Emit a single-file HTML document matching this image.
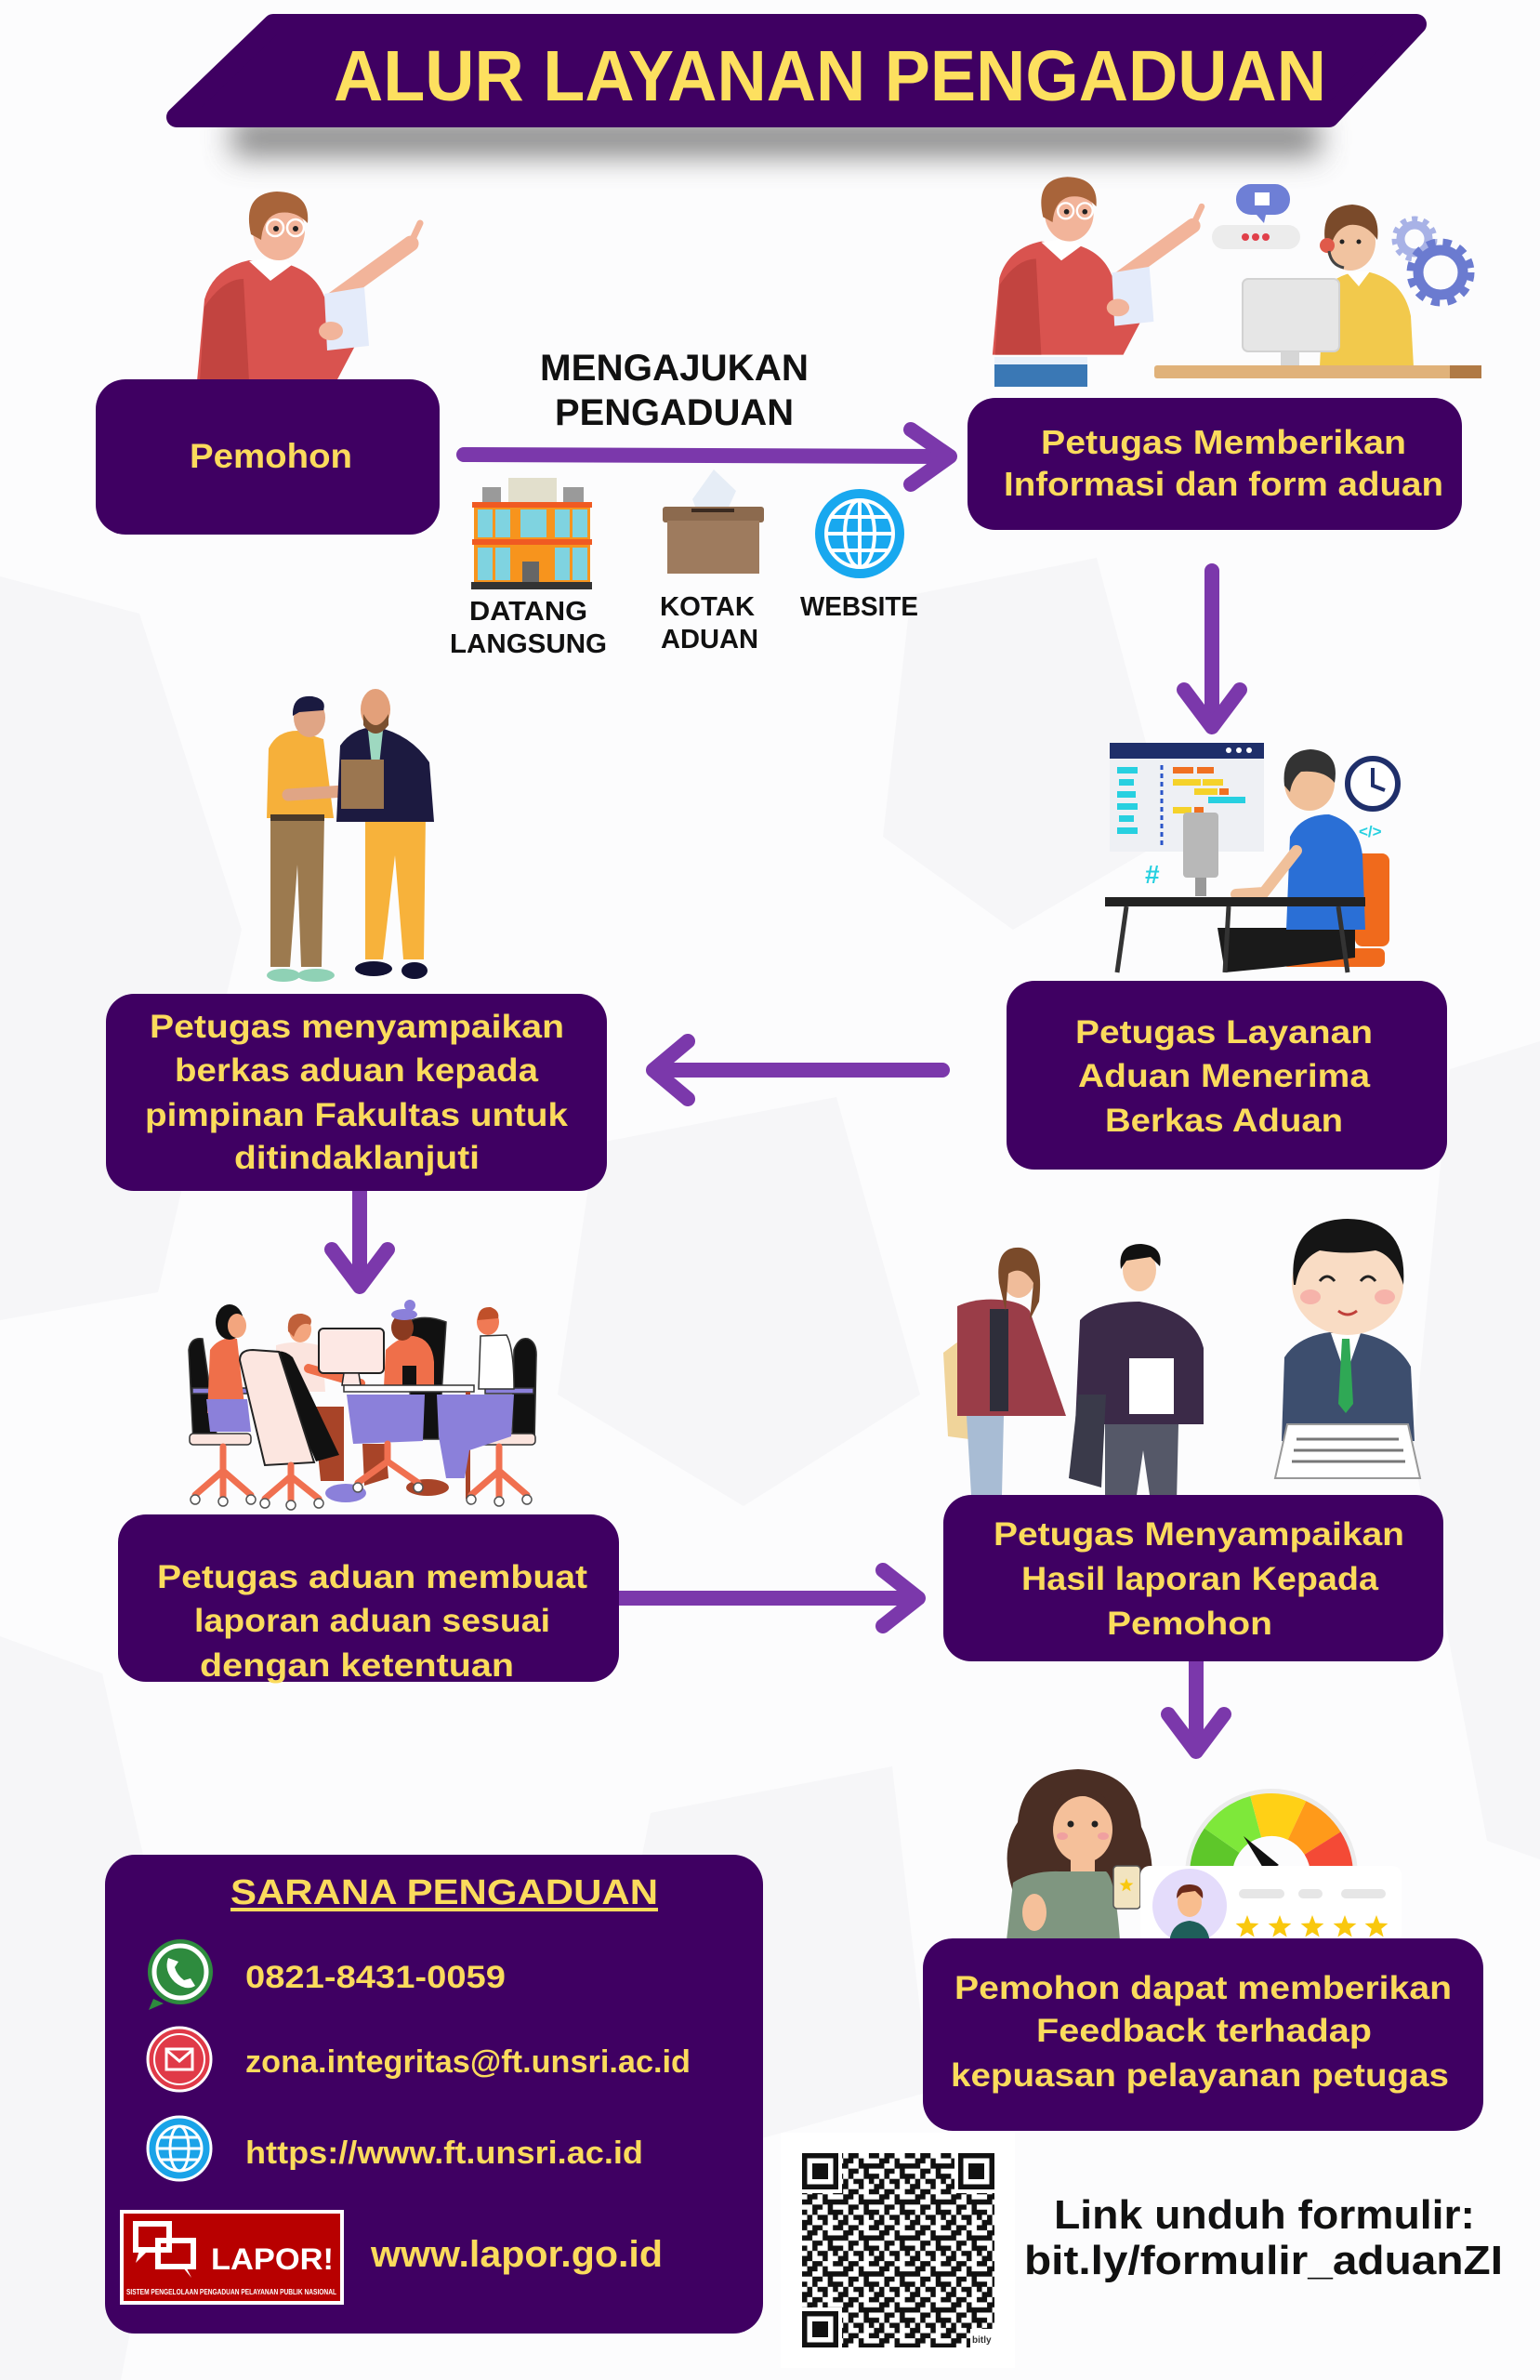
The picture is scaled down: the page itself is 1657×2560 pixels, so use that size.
<!DOCTYPE html>
<html><head><meta charset="utf-8">
<style>
html,body{margin:0;padding:0;background:#fcfcfd;}
svg{display:block;}
text{font-family:"Liberation Sans",Arial,sans-serif;font-weight:bold;}
</style></head><body>
<svg width="1657" height="2560" viewBox="0 0 1657 2560" xmlns="http://www.w3.org/2000/svg">
<defs>
<filter id="blur" x="-30%" y="-200%" width="160%" height="500%"><feGaussianBlur stdDeviation="16"/></filter>
<pattern id="qr" patternUnits="userSpaceOnUse" width="49" height="49" patternTransform="translate(863,2316) scale(0.79)">
<path fill="#111" d="M0 0h7v7h-7z M14 0h14v7h-14z M42 0h7v7h-7z M7 7h14v7h-14z M28 7h7v7h-7z M0 14h14v7h-14z M28 14h21v7h-21z M14 21h14v7h-14z M35 21h7v7h-7z M0 28h7v7h-7z M14 28h7v7h-7z M35 28h14v7h-14z M7 35h7v7h-7z M21 35h14v7h-14z M42 35h7v7h-7z M0 42h14v7h-14z M28 42h7v7h-7z"/>
</pattern>
<g id="finder"><rect x="-4" y="-4" width="47" height="47" fill="#fff"/><rect width="39" height="39" fill="#111"/><rect x="5.5" y="5.5" width="28" height="28" fill="#fff"/><rect x="11" y="11" width="17" height="17" fill="#111"/></g>
<polygon id="star" points="0,-13 3.23,-4.45 12.36,-4.02 5.23,1.7 7.64,10.52 0,5.5 -7.64,10.52 -5.23,1.7 -12.36,-4.02 -3.23,-4.45" fill="#f9c80e"/>
<g id="man">
<path d="M345,332 L442,262" stroke="#f2b49a" stroke-width="17" stroke-linecap="round"/>
<path d="M440,266 L452,240" stroke="#f2b49a" stroke-width="7" stroke-linecap="round"/>
<path d="M212,410 L220,322 Q230,288 268,280 L312,285 Q345,296 352,330 L382,372 L362,410 Z" fill="#d9534f"/>
<path d="M220,330 Q240,300 262,300 L268,410 L215,410Z" fill="#c24440"/>
<path d="M268,281 L291,302 L314,285 L300,276 Z" fill="#fff"/>
<ellipse cx="300" cy="248" rx="28" ry="32" fill="#f2b49a"/>
<path d="M270,252 Q260,208 298,206 Q334,207 331,240 Q318,226 300,229 Q283,233 281,258 Z" fill="#a8643a"/>
<circle cx="296" cy="245" r="9" fill="none" stroke="#fff" stroke-width="2.5"/>
<circle cx="318" cy="245" r="9" fill="none" stroke="#fff" stroke-width="2.5"/>
<circle cx="297" cy="246" r="3" fill="#222"/><circle cx="318" cy="246" r="3" fill="#222"/>
<path d="M349,316 L392,309 L397,372 L352,377 Z" fill="#e4ebfa"/>
<ellipse cx="356" cy="356" rx="13" ry="10" fill="#f2b49a"/>
</g>
</defs>

<rect width="1657" height="2560" fill="#fcfcfd"/>
<g fill="#f6f6f8">
<polygon points="0,620 150,660 260,1000 170,1390 0,1420"/>
<polygon points="0,1760 110,1800 200,2200 130,2560 0,2560"/>
<polygon points="1560,1150 1657,1120 1657,2000 1600,1980 1520,1560"/>
<polygon points="980,640 1180,600 1260,900 1090,1000 950,900"/>
<polygon points="640,1230 900,1180 990,1500 800,1620 600,1500"/>
<polygon points="700,1950 960,1900 1000,2250 820,2300 650,2200"/>
</g>

<!-- title -->
<rect x="250" y="128" width="1170" height="40" fill="#6a6a6a" filter="url(#blur)" opacity="0.8"/>
<polygon points="294,26 1524,26 1430,126 190,126" fill="#3f0062" stroke="#3f0062" stroke-width="22" stroke-linejoin="round"/>
<text x="359" y="108" font-size="77" fill="#fde05f" textLength="1068" lengthAdjust="spacingAndGlyphs">ALUR LAYANAN PENGADUAN</text>

<!-- ill1 pemohon -->
<use href="#man"/>

<!-- ill2 -->
<use href="#man" transform="translate(869,-3) scale(0.938)"/>
<rect x="1070" y="386" width="100" height="30" fill="#3a78b5"/>
<rect x="1070" y="384" width="100" height="8" fill="#e8f0fa"/>
<rect x="1330" y="198" width="58" height="33" rx="16" fill="#6e7fd6"/>
<path d="M1352,231 L1360,240 L1362,231Z" fill="#6e7fd6"/>
<rect x="1350" y="207" width="16" height="14" fill="#fff"/>
<rect x="1304" y="242" width="95" height="26" rx="13" fill="#ececec"/>
<circle cx="1340" cy="255" r="4" fill="#e0404a"/><circle cx="1351" cy="255" r="4" fill="#e0404a"/><circle cx="1362" cy="255" r="4" fill="#e0404a"/>
<path d="M1420,395 L1424,312 Q1440,292 1470,292 Q1510,300 1518,340 L1521,395 Z" fill="#f2c94c"/>
<path d="M1448,292 L1462,308 L1474,292Z" fill="#fff"/>
<ellipse cx="1453" cy="260" rx="27" ry="31" fill="#f1c3a0"/>
<path d="M1426,262 Q1420,222 1455,220 Q1486,222 1482,258 Q1470,240 1452,242 Q1436,246 1432,266Z" fill="#7a4a2a"/>
<circle cx="1428" cy="264" r="8" fill="#e05a4a"/>
<circle cx="1444" cy="260" r="2.5" fill="#222"/><circle cx="1462" cy="260" r="2.5" fill="#222"/>
<path d="M1430,270 Q1432,285 1446,288" stroke="#444" stroke-width="3" fill="none"/>
<rect x="1337" y="300" width="104" height="78" rx="6" fill="#e6e6e6" stroke="#d2d2d2" stroke-width="2"/>
<rect x="1378" y="378" width="20" height="16" fill="#d6d6d6"/>
<rect x="1242" y="393" width="352" height="14" rx="3" fill="#e0b27a"/>
<rect x="1560" y="393" width="34" height="14" fill="#b07a45"/>
<circle cx="1522" cy="257" r="15" fill="none" stroke="#a8b2e6" stroke-width="9"/>
<circle cx="1522" cy="257" r="21" fill="none" stroke="#a8b2e6" stroke-width="7" stroke-dasharray="6 6"/>
<circle cx="1550" cy="293" r="24" fill="none" stroke="#6b7bd0" stroke-width="11"/>
<circle cx="1550" cy="293" r="32" fill="none" stroke="#6b7bd0" stroke-width="9" stroke-dasharray="9 8"/>

<!-- boxes row 1 -->
<rect x="103" y="408" width="370" height="167" rx="32" fill="#3f0062"/>
<rect x="1041" y="428" width="532" height="142" rx="30" fill="#3f0062"/>

<!-- icons row -->
<rect x="519" y="524" width="20" height="20" fill="#9a9a9a"/>
<rect x="606" y="524" width="22" height="20" fill="#9a9a9a"/>
<rect x="547" y="514" width="52" height="28" fill="#e2dfcc"/>
<rect x="510" y="542" width="125" height="86" fill="#f7941d"/>
<rect x="508" y="540" width="129" height="6" fill="#f05a22"/>
<rect x="508" y="580" width="129" height="6" fill="#f05a22"/>
<g fill="#7fd3e0">
<rect x="514" y="548" width="16" height="30"/><rect x="533" y="548" width="16" height="30"/>
<rect x="597" y="548" width="16" height="30"/><rect x="616" y="548" width="16" height="30"/>
<rect x="514" y="589" width="16" height="35"/><rect x="533" y="589" width="16" height="35"/>
<rect x="597" y="589" width="16" height="35"/><rect x="616" y="589" width="16" height="35"/>
<rect x="560" y="548" width="28" height="30"/>
</g>
<rect x="562" y="604" width="18" height="22" fill="#666"/>
<rect x="507" y="626" width="130" height="8" fill="#333"/>
<path d="M745,537 L768,505 L792,528 L782,550 L750,550Z" fill="#e6edf6"/>
<rect x="713" y="545" width="109" height="17" rx="3" fill="#8c6a4e"/>
<rect x="718" y="560" width="99" height="57" fill="#9e7b5e"/>
<rect x="744" y="547" width="46" height="4" fill="#3a2a20"/>
<circle cx="925" cy="574" r="48" fill="#18a8ef"/>
<g fill="none" stroke="#fff" stroke-width="4">
<circle cx="925" cy="574" r="36"/>
<ellipse cx="925" cy="574" rx="16" ry="36"/>
<line x1="925" y1="538" x2="925" y2="610"/>
<line x1="889" y1="574" x2="961" y2="574"/>
<line x1="893" y1="556" x2="957" y2="556"/>
<line x1="893" y1="592" x2="957" y2="592"/>
</g>

<!-- ill3 two men -->
<path d="M291,878 L349,878 L346,1040 L324,1040 L320,930 L312,1040 L291,1040Z" fill="#9c7a4f"/>
<ellipse cx="305" cy="1049" rx="18" ry="7" fill="#8fd1b5"/><ellipse cx="340" cy="1049" rx="20" ry="7" fill="#8fd1b5"/>
<path d="M287,880 L289,805 Q298,786 320,786 L348,795 L359,880 Z" fill="#f6b03a"/>
<rect x="291" y="876" width="58" height="7" fill="#4a3a2a"/>
<path d="M310,855 L385,850" stroke="#e0a585" stroke-width="13" stroke-linecap="round"/>
<ellipse cx="333" cy="772" rx="17" ry="21" fill="#e0a585"/>
<path d="M315,770 Q314,747 336,749 Q352,752 348,764 L322,766Z" fill="#1a1a40"/>
<path d="M393,876 L458,876 L456,1032 L434,1032 L425,920 L412,1032 L393,1032Z" fill="#f7b23b"/>
<ellipse cx="402" cy="1042" rx="20" ry="8" fill="#111133"/><ellipse cx="446" cy="1044" rx="14" ry="9" fill="#111133"/>
<path d="M362,884 L366,802 Q380,782 405,782 Q442,790 462,820 L467,884 Z" fill="#1c1a40"/>
<path d="M396,786 L412,786 L404,860 Z" fill="#9ed8c0"/>
<ellipse cx="404" cy="763" rx="16" ry="22" fill="#e3a07a"/>
<path d="M391,768 Q404,792 418,768 L418,780 Q404,798 391,780Z" fill="#7a5030"/>
<rect x="367" y="817" width="46" height="53" fill="#9b7650"/>

<!-- arrows -->
<g stroke="#7b38ab" fill="none" stroke-width="16" stroke-linecap="round" stroke-linejoin="round">
<line x1="499" y1="489" x2="1014" y2="491"/>
<polyline points="980,462 1022,491 980,521"/>
<line x1="1304" y1="614" x2="1304" y2="780"/>
<polyline points="1274,742 1304,782 1334,742"/>
<line x1="1014" y1="1151" x2="708" y2="1151"/>
<polyline points="740,1120 703,1151 740,1182"/>
<line x1="387" y1="1281" x2="387" y2="1382"/>
<polyline points="357,1344 387,1384 417,1344"/>
<line x1="666" y1="1719" x2="982" y2="1719"/>
<polyline points="950,1689 988,1719 950,1749"/>
<line x1="1287" y1="1787" x2="1287" y2="1882"/>
<polyline points="1257,1844 1287,1884 1317,1844"/>
</g>

<!-- ill4 programmer -->
<rect x="1194" y="799" width="166" height="117" fill="#eef0f4"/>
<rect x="1194" y="799" width="166" height="17" fill="#1f2f6a"/>
<circle cx="1322" cy="807" r="3" fill="#fff"/><circle cx="1333" cy="807" r="3" fill="#fff"/><circle cx="1344" cy="807" r="3" fill="#fff"/>
<g fill="#27d0e0"><rect x="1202" y="825" width="22" height="7"/><rect x="1204" y="838" width="16" height="7"/><rect x="1202" y="851" width="20" height="7"/><rect x="1202" y="864" width="22" height="7"/><rect x="1204" y="877" width="16" height="7"/><rect x="1202" y="890" width="22" height="7"/><rect x="1300" y="857" width="40" height="7"/></g>
<line x1="1250" y1="823" x2="1250" y2="910" stroke="#2a55c8" stroke-width="3" stroke-dasharray="5 4"/>
<g fill="#f5d22a"><rect x="1262" y="838" width="30" height="7"/><rect x="1294" y="838" width="22" height="7"/><rect x="1285" y="848" width="25" height="7"/><rect x="1262" y="868" width="20" height="7"/></g>
<g fill="#f07021"><rect x="1262" y="825" width="22" height="7"/><rect x="1288" y="825" width="18" height="7"/><rect x="1312" y="848" width="10" height="7"/><rect x="1285" y="868" width="10" height="7"/></g>
<rect x="1273" y="874" width="38" height="70" rx="4" fill="#b8b8b8"/>
<rect x="1286" y="944" width="12" height="20" fill="#999"/>
<rect x="1458" y="918" width="37" height="100" rx="8" fill="#f06a1c"/>
<rect x="1380" y="1020" width="110" height="20" rx="6" fill="#f06a1c"/>
<path d="M1310,998 L1458,998 L1458,1030 L1380,1040 L1318,1046 Z" fill="#1a1a1a"/>
<path d="M1384,1000 L1388,900 Q1400,876 1430,876 Q1462,885 1466,920 L1469,1000 Z" fill="#2a6fd6"/>
<path d="M1395,915 L1360,960 L1330,962" stroke="#f0c09a" stroke-width="12" stroke-linecap="round" fill="none"/>
<ellipse cx="1409" cy="842" rx="27" ry="30" fill="#f0c09a"/>
<path d="M1382,845 Q1378,808 1410,806 Q1442,808 1436,842 Q1425,828 1400,830 Q1390,838 1388,852Z" fill="#333"/>
<rect x="1189" y="965" width="280" height="10" fill="#222"/>
<g stroke="#333" stroke-width="5"><line x1="1212" y1="975" x2="1202" y2="1046"/><line x1="1322" y1="975" x2="1318" y2="1046"/><line x1="1440" y1="975" x2="1450" y2="1046"/></g>
<circle cx="1477" cy="843" r="27" fill="#fff" stroke="#1f2f6a" stroke-width="6"/>
<path d="M1477,826 L1477,845 L1490,850" stroke="#1f2f6a" stroke-width="4" fill="none"/>
<text x="1232" y="950" font-size="28" fill="#27d0e0">#</text>
<text x="1462" y="900" font-size="17" fill="#27d0e0">&lt;/&gt;</text>

<!-- boxes row 2 -->
<rect x="114" y="1069" width="539" height="212" rx="30" fill="#3f0062"/>
<rect x="1083" y="1055" width="474" height="203" rx="30" fill="#3f0062"/>

<!-- ill5 meeting -->
<g stroke="#333" stroke-width="1.5">
<path d="M443,1420 Q458,1414 480,1422 L472,1548 L440,1548Z" fill="#111"/>
<path d="M203,1452 Q205,1438 218,1440 L234,1550 L208,1552Z" fill="#111"/>
<path d="M553,1452 Q558,1438 568,1440 Q578,1444 577,1460 L575,1552 L551,1552Z" fill="#111"/>
<rect x="204" y="1542" width="66" height="12" rx="4" fill="#fbe4de"/>
<rect x="500" y="1542" width="76" height="12" rx="4" fill="#fbe4de"/>
<rect x="207" y="1493" width="60" height="6" fill="#8b80da"/>
<rect x="522" y="1493" width="52" height="6" fill="#8b80da"/>
</g>
<path d="M223,1520 L226,1452 Q236,1437 255,1440 L264,1520Z" fill="#ef6f4a"/>
<path d="M222,1505 L266,1505 L270,1540 L226,1540Z" fill="#8b80da"/>
<ellipse cx="247" cy="1422" rx="15" ry="19" fill="#111"/>
<ellipse cx="255" cy="1426" rx="10" ry="13" fill="#f3a57e"/>
<path d="M297,1447 Q320,1440 347,1448 L350,1497 L297,1497Z" fill="#fbe4de"/>
<ellipse cx="323" cy="1430" rx="12" ry="14" fill="#f3a57e"/>
<path d="M310,1432 Q308,1412 325,1413 Q338,1416 334,1425 Q322,1420 316,1438Z" fill="#c0603a"/>
<path d="M332,1472 L388,1488" stroke="#ef6f4a" stroke-width="10" stroke-linecap="round"/>
<rect x="343" y="1429" width="70" height="48" rx="5" fill="#fde8e4" stroke="#222" stroke-width="2"/>
<path d="M370,1477 L386,1477 L388,1490 L368,1490Z" fill="#fde8e4" stroke="#222" stroke-width="1.5"/>
<path d="M413,1492 L415,1452 Q430,1437 445,1437 Q465,1440 467,1465 L467,1492Z" fill="#ef6f4a"/>
<ellipse cx="433" cy="1428" rx="12" ry="14" fill="#8a3a20"/>
<ellipse cx="435" cy="1414" rx="14" ry="6" fill="#8b80da"/>
<circle cx="441" cy="1404" r="6" fill="#8b80da"/>
<rect x="433" y="1469" width="15" height="22" fill="#111"/>
<ellipse cx="525" cy="1422" rx="12" ry="14" fill="#f07a55"/>
<path d="M514,1420 Q514,1405 528,1406 Q538,1410 536,1418Z" fill="#c0502a"/>
<path d="M517,1437 L545,1436 Q553,1450 553,1494 L515,1494Z" fill="#fff" stroke="#333" stroke-width="1.5"/>
<rect x="370" y="1490" width="140" height="7" fill="#fff" stroke="#333" stroke-width="1.5"/>
<rect x="501" y="1497" width="5" height="115" fill="#a84428"/>
<path d="M373,1500 L457,1500 L455,1550 L380,1553Z" fill="#8b80da"/>
<path d="M470,1500 L553,1500 L550,1545 L505,1560 L500,1590 L480,1590 L472,1545Z" fill="#8b80da"/>
<path d="M337,1513 L370,1513 L370,1593 L345,1593Z" fill="#a84428"/>
<path d="M390,1553 L415,1553 L418,1590 L392,1598Z" fill="#a84428"/>
<ellipse cx="460" cy="1600" rx="23" ry="9" fill="#a84428"/>
<ellipse cx="372" cy="1606" rx="22" ry="10" fill="#8b80da"/>
<path d="M290,1455 Q305,1450 315,1460 L365,1565 L340,1572Z" fill="#111"/>
<path d="M258,1463 Q258,1452 272,1452 L300,1454 L338,1573 L285,1576Z" fill="#fce6e0" stroke="#222" stroke-width="2"/>
<g stroke="#f07050" stroke-width="7" stroke-linecap="round" fill="none">
<path d="M240,1556 L240,1582 M210,1608 L240,1582 L270,1608 M240,1582 L240,1610"/>
<path d="M313,1576 L313,1588 M285,1612 L313,1588 L343,1612 M313,1588 L313,1614"/>
<path d="M417,1553 L417,1572 M385,1595 L417,1572 L450,1595"/>
<path d="M537,1556 L537,1582 M507,1608 L537,1582 L567,1608 M537,1582 L537,1610"/>
</g>
<g fill="#fff" stroke="#555" stroke-width="1.5">
<circle cx="210" cy="1613" r="5"/><circle cx="240" cy="1615" r="5"/><circle cx="270" cy="1613" r="5"/>
<circle cx="285" cy="1617" r="5"/><circle cx="313" cy="1619" r="5"/><circle cx="343" cy="1617" r="5"/>
<circle cx="385" cy="1600" r="5"/><circle cx="450" cy="1600" r="5"/>
<circle cx="507" cy="1613" r="5"/><circle cx="537" cy="1615" r="5"/><circle cx="567" cy="1613" r="5"/>
</g>

<!-- ill6 three people -->
<path d="M1015,1455 L1035,1440 L1062,1450 L1058,1550 L1020,1545Z" fill="#f0d49a"/>
<path d="M1040,1523 L1080,1523 L1078,1608 L1045,1608Z" fill="#a8bcd4"/>
<path d="M1030,1405 Q1050,1396 1075,1398 Q1100,1400 1108,1410 L1147,1523 L1030,1523Z" fill="#9a3d48"/>
<rect x="1065" y="1408" width="20" height="110" fill="#2e2e3a"/>
<ellipse cx="1096" cy="1372" rx="18" ry="24" fill="#f0bc9a"/>
<path d="M1075,1380 Q1070,1340 1098,1342 Q1124,1346 1118,1400 L1108,1420 L1112,1380 Q1100,1360 1085,1370 L1082,1410Z" fill="#7a4a2a"/>
<path d="M1189,1532 L1268,1532 L1266,1615 L1238,1615 L1230,1560 L1222,1615 L1189,1615Z" fill="#555868"/>
<path d="M1157,1532 L1162,1420 Q1180,1400 1226,1400 Q1285,1410 1295,1450 L1295,1532Z" fill="#3b2a48"/>
<path d="M1160,1500 L1190,1500 L1185,1600 L1150,1590Z" fill="#3a3a4a"/>
<rect x="1215" y="1461" width="48" height="60" fill="#fff"/>
<ellipse cx="1226" cy="1366" rx="18" ry="23" fill="#f5c8a5"/>
<path d="M1206,1365 Q1202,1338 1228,1338 Q1252,1340 1248,1362 L1238,1352 L1212,1356Z" fill="#111"/>
<path d="M1379,1550 L1382,1460 Q1400,1432 1448,1432 Q1500,1436 1518,1470 L1522,1550Z" fill="#3d4e6e"/>
<path d="M1432,1434 L1464,1434 L1448,1480Z" fill="#fff"/>
<path d="M1444,1440 L1452,1440 L1456,1510 L1448,1520 L1440,1510Z" fill="#2fa855"/>
<ellipse cx="1450" cy="1380" rx="60" ry="56" fill="#f9dcc4"/>
<path d="M1392,1382 Q1385,1312 1450,1311 Q1515,1312 1510,1382 Q1500,1350 1480,1345 Q1450,1350 1420,1345 Q1398,1355 1394,1382Z" fill="#151515"/>
<ellipse cx="1410" cy="1395" rx="11" ry="8" fill="#f6b3aa"/><ellipse cx="1490" cy="1395" rx="11" ry="8" fill="#f6b3aa"/>
<path d="M1420,1378 Q1428,1368 1436,1378 M1464,1378 Q1472,1368 1480,1378" stroke="#222" stroke-width="3" fill="none"/>
<path d="M1440,1410 Q1450,1418 1460,1410" stroke="#c0403a" stroke-width="3" fill="none"/>
<path d="M1385,1532 L1515,1532 L1528,1590 L1372,1590Z" fill="#fff" stroke="#999" stroke-width="2"/>
<g stroke="#777" stroke-width="3"><line x1="1395" y1="1548" x2="1505" y2="1548"/><line x1="1392" y1="1560" x2="1510" y2="1560"/><line x1="1390" y1="1572" x2="1512" y2="1572"/></g>

<!-- boxes row 3 -->
<rect x="127" y="1629" width="539" height="180" rx="30" fill="#3f0062"/>
<rect x="1015" y="1608" width="538" height="179" rx="30" fill="#3f0062"/>

<!-- ill7 feedback -->
<circle cx="1368" cy="2017" r="90" fill="none" stroke="#ececec" stroke-width="6"/>
<g fill="none" stroke-width="46">
<path d="M1303,2017 A65,65 0 0 1 1314.8,1979.7" stroke="#5ec72a"/>
<path d="M1314.8,1979.7 A65,65 0 0 1 1351.2,1954.2" stroke="#7ee83a"/>
<path d="M1351.2,1954.2 A65,65 0 0 1 1395.5,1958.1" stroke="#ffd016"/>
<path d="M1395.5,1958.1 A65,65 0 0 1 1423.1,1982.6" stroke="#ff9a1a"/>
<path d="M1423.1,1982.6 A65,65 0 0 1 1433,2017" stroke="#f44a36"/>
</g>
<polygon points="1338,1975 1362,2014 1376,2006" fill="#111"/>
<path d="M1090,2035 Q1075,1990 1095,1960 Q1100,1905 1160,1903 Q1222,1905 1228,1965 Q1245,2000 1237,2035Z" fill="#4a2e24"/>
<rect x="1152" y="1995" width="26" height="22" fill="#f5c09a"/>
<ellipse cx="1165" cy="1968" rx="32" ry="36" fill="#f5c09a"/>
<path d="M1133,1965 Q1135,1930 1168,1932 Q1190,1938 1198,1962 Q1195,1925 1165,1922 Q1130,1925 1133,1965Z" fill="#4a2e24"/>
<circle cx="1152" cy="1962" r="3.5" fill="#222"/><circle cx="1178" cy="1962" r="3.5" fill="#222"/>
<ellipse cx="1143" cy="1975" rx="6" ry="4" fill="#f0a0a0"/><ellipse cx="1187" cy="1975" rx="6" ry="4" fill="#f0a0a0"/>
<path d="M1083,2087 L1090,2025 Q1110,2012 1140,2013 L1190,2013 Q1200,2020 1205,2087Z" fill="#7f9680"/>
<ellipse cx="1113" cy="2057" rx="13" ry="20" fill="#f5c09a"/>
<rect x="1198" y="2007" width="29" height="46" rx="4" fill="#f2e4c0" stroke="#555" stroke-width="1.5"/>
<use href="#star" transform="translate(1212,2028) scale(0.6)"/>
<rect x="1227" y="2007" width="281" height="83" rx="10" fill="#fff"/>
<circle cx="1280" cy="2050" r="40" fill="#e4dcfb"/>
<ellipse cx="1280" cy="2046" rx="13" ry="16" fill="#f8bd8e"/>
<path d="M1266,2042 Q1266,2026 1281,2027 Q1296,2028 1294,2042 L1286,2034 L1272,2036Z" fill="#6b2a1a"/>
<path d="M1258,2090 Q1260,2068 1280,2066 Q1300,2068 1302,2090Z" fill="#1f5f5a"/>
<rect x="1333" y="2032" width="49" height="10" rx="5" fill="#e6e6e6"/>
<rect x="1397" y="2032" width="26" height="10" rx="5" fill="#e6e6e6"/>
<rect x="1443" y="2032" width="48" height="10" rx="5" fill="#e6e6e6"/>
<use href="#star" transform="translate(1342,2073)"/>
<use href="#star" transform="translate(1377,2073)"/>
<use href="#star" transform="translate(1412,2073)"/>
<use href="#star" transform="translate(1447,2073)"/>
<use href="#star" transform="translate(1481,2073)"/>

<rect x="993" y="2085" width="603" height="207" rx="32" fill="#3f0062"/>
<rect x="113" y="1995" width="708" height="515" rx="32" fill="#3f0062"/>

<!-- yellow texts -->
<g fill="#fbdb5c" font-size="35">
<text x="204" y="503" font-size="37" textLength="175" lengthAdjust="spacingAndGlyphs">Pemohon</text>
<text x="1120" y="488" font-size="36" textLength="393" lengthAdjust="spacingAndGlyphs">Petugas Memberikan</text>
<text x="1080" y="533" font-size="36" textLength="473" lengthAdjust="spacingAndGlyphs">Informasi dan form aduan</text>
<text x="161" y="1116" textLength="446" lengthAdjust="spacingAndGlyphs">Petugas menyampaikan</text>
<text x="188" y="1163" textLength="391" lengthAdjust="spacingAndGlyphs">berkas aduan kepada</text>
<text x="156" y="1211" textLength="455" lengthAdjust="spacingAndGlyphs">pimpinan Fakultas untuk</text>
<text x="252" y="1257" textLength="264" lengthAdjust="spacingAndGlyphs">ditindaklanjuti</text>
<text x="1157" y="1122" textLength="320" lengthAdjust="spacingAndGlyphs">Petugas Layanan</text>
<text x="1160" y="1169" textLength="314" lengthAdjust="spacingAndGlyphs">Aduan Menerima</text>
<text x="1189" y="1217" textLength="256" lengthAdjust="spacingAndGlyphs">Berkas Aduan</text>
<text x="169" y="1708" textLength="463" lengthAdjust="spacingAndGlyphs">Petugas aduan membuat</text>
<text x="209" y="1755" textLength="383" lengthAdjust="spacingAndGlyphs">laporan aduan sesuai</text>
<text x="215" y="1803" textLength="338" lengthAdjust="spacingAndGlyphs">dengan ketentuan</text>
<text x="1069" y="1662" textLength="442" lengthAdjust="spacingAndGlyphs">Petugas Menyampaikan</text>
<text x="1099" y="1710" textLength="384" lengthAdjust="spacingAndGlyphs">Hasil laporan Kepada</text>
<text x="1191" y="1758" textLength="178" lengthAdjust="spacingAndGlyphs">Pemohon</text>
<text x="1027" y="2150" textLength="535" lengthAdjust="spacingAndGlyphs">Pemohon dapat memberikan</text>
<text x="1115" y="2196" textLength="361" lengthAdjust="spacingAndGlyphs">Feedback terhadap</text>
<text x="1023" y="2244" textLength="536" lengthAdjust="spacingAndGlyphs">kepuasan pelayanan petugas</text>
<text x="248" y="2048" font-size="38" textLength="460" lengthAdjust="spacingAndGlyphs">SARANA PENGADUAN</text>
<text x="264" y="2138" font-size="34" textLength="280" lengthAdjust="spacingAndGlyphs">0821-8431-0059</text>
<text x="264" y="2229" font-size="34" textLength="479" lengthAdjust="spacingAndGlyphs">zona.integritas@ft.unsri.ac.id</text>
<text x="264" y="2327" font-size="34" textLength="428" lengthAdjust="spacingAndGlyphs">https://www.ft.unsri.ac.id</text>
<text x="399" y="2438" font-size="40" textLength="314" lengthAdjust="spacingAndGlyphs">www.lapor.go.id</text>
</g>
<rect x="248" y="2052" width="460" height="4" fill="#fbdb5c"/>

<!-- black texts -->
<g fill="#111">
<text x="581" y="409" font-size="40" textLength="289" lengthAdjust="spacingAndGlyphs">MENGAJUKAN</text>
<text x="597" y="457" font-size="40" textLength="257" lengthAdjust="spacingAndGlyphs">PENGADUAN</text>
<text x="505" y="667" font-size="29" textLength="127" lengthAdjust="spacingAndGlyphs">DATANG</text>
<text x="484" y="702" font-size="29" textLength="169" lengthAdjust="spacingAndGlyphs">LANGSUNG</text>
<text x="710" y="662" font-size="29" textLength="102" lengthAdjust="spacingAndGlyphs">KOTAK</text>
<text x="711" y="697" font-size="29" textLength="105" lengthAdjust="spacingAndGlyphs">ADUAN</text>
<text x="861" y="662" font-size="29" textLength="127" lengthAdjust="spacingAndGlyphs">WEBSITE</text>
<text x="1134" y="2397" font-size="44" textLength="453" lengthAdjust="spacingAndGlyphs">Link unduh formulir:</text>
<text x="1102" y="2446" font-size="44" textLength="515" lengthAdjust="spacingAndGlyphs">bit.ly/formulir_aduanZI</text>
</g>

<!-- sarana icons -->
<path d="M165,2150 L160,2162 L176,2155Z" fill="#2e8b3e"/>
<circle cx="194" cy="2121" r="35" fill="#2e8b3e"/>
<circle cx="194" cy="2121" r="28" fill="none" stroke="#fff" stroke-width="5"/>
<path d="M181,2106 Q176,2120 188,2132 Q200,2142 210,2136 L205,2128 L198,2130 Q190,2124 188,2116 L192,2110Z" fill="#fff"/>
<circle cx="193" cy="2215" r="34" fill="#e03a48" stroke="#fff" stroke-width="3"/>
<circle cx="193" cy="2215" r="27" fill="none" stroke="#fff" stroke-width="2"/>
<rect x="179" y="2204" width="28" height="22" fill="none" stroke="#fff" stroke-width="3"/>
<polyline points="179,2205 193,2217 207,2205" fill="none" stroke="#fff" stroke-width="3"/>
<circle cx="193" cy="2311" r="34" fill="#1aa3e8" stroke="#fff" stroke-width="3"/>
<g fill="none" stroke="#fff" stroke-width="3">
<circle cx="193" cy="2311" r="24"/>
<ellipse cx="193" cy="2311" rx="10" ry="24"/>
<line x1="169" y1="2311" x2="217" y2="2311"/>
<line x1="173" y1="2299" x2="213" y2="2299"/><line x1="173" y1="2323" x2="213" y2="2323"/>
</g>
<rect x="131" y="2379" width="237" height="98" fill="#b80000" stroke="#fff" stroke-width="4"/>
<g fill="none" stroke="#fff" stroke-width="6">
<rect x="146" y="2392" width="36" height="28"/>
<rect x="170" y="2410" width="38" height="28"/>
</g>
<path d="M150,2420 L146,2434 L160,2420Z M200,2438 L206,2450 L196,2438Z" fill="#fff"/>
<text x="227" y="2441" font-size="32" fill="#fff" textLength="132" lengthAdjust="spacingAndGlyphs">LAPOR!</text>
<text x="136" y="2468" font-size="8" fill="#fff" textLength="226" lengthAdjust="spacingAndGlyphs">SISTEM PENGELOLAAN PENGADUAN PELAYANAN PUBLIK NASIONAL</text>

<!-- QR -->
<rect x="840" y="2294" width="252" height="253" fill="#fff"/>
<rect x="863" y="2316" width="207" height="209" fill="url(#qr)"/>
<use href="#finder" transform="translate(863,2316)"/>
<use href="#finder" transform="translate(1031,2316)"/>
<use href="#finder" transform="translate(863,2486)"/>
<rect x="1044" y="2505" width="26" height="20" fill="#fff"/>
<text x="1046" y="2520" font-size="10" fill="#333" font-weight="normal">bitly</text>
</svg>
</body></html>
